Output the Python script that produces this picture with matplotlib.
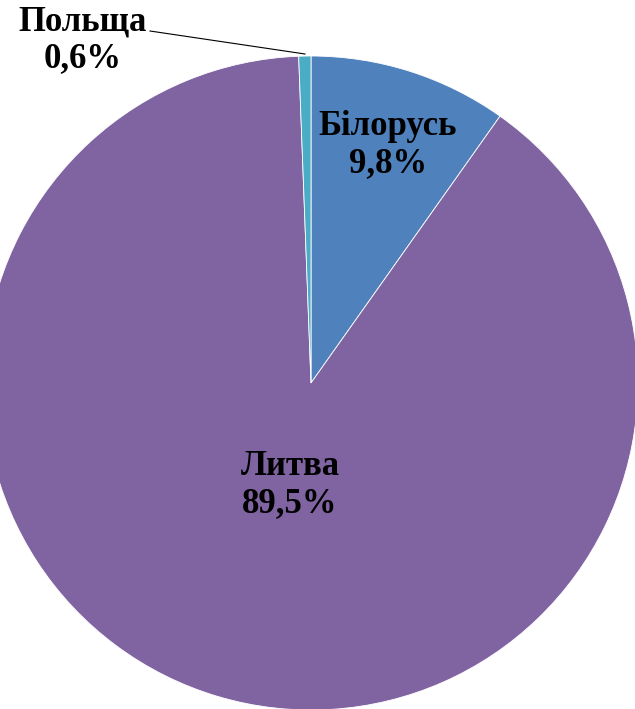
import matplotlib.pyplot as plt

countries = ["Білорусь", "Литва", "Польща"]
shares = [9.8, 89.5, 0.6]
share_labels = ["9,8%", "89,5%", "0,6%"]
colors = ["#4F81BD", "#8064A2", "#4BACC6"]

W, H = 635, 709
fig = plt.figure(figsize=(W / 100, H / 100), dpi=100)
ax = fig.add_axes([0, 0, 1, 1])

cx, cy, r = 311, H - 383, 327
ax.pie(shares, colors=colors, startangle=90, counterclock=False,
       center=(cx, cy), radius=r, frame=True,
       wedgeprops=dict(edgecolor="white", linewidth=0.6))
ax.set_xlim(0, W)
ax.set_ylim(0, H)
ax.set_aspect("equal")
ax.axis("off")

font = dict(family="Liberation Serif", fontsize=25, fontweight="bold",
            ha="center", va="center", linespacing=1.15)

ax.text(388, H - 145, countries[0] + "\n" + share_labels[0], **font)
ax.text(290, H - 485, countries[1] + "\n" + share_labels[1], **font)
ax.text(83, H - 40, countries[2] + "\n" + share_labels[2], **font)

# leader line for the small slice
ax.plot([150, 305], [H - 31, H - 54], color="black", linewidth=0.8)

fig.savefig("out.png", dpi=100)
